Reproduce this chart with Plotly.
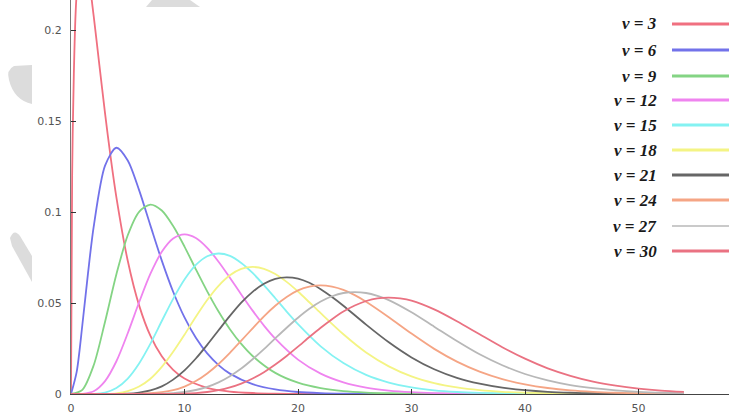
import plotly.graph_objects as go

# ---- data ----
dof = [3, 6, 9, 12, 15, 18, 21, 24, 27, 30]
colors = ["#f07080", "#7272ea", "#84d484", "#ef84ef", "#84f2f2",
          "#f4f484", "#666666", "#f5a585", "#b8b8b8", "#ea7282"]

x_v3 = [0, 0.1, 0.25, 0.5, 1, 1.5, 2, 2.5, 3, 3.5, 4, 5, 6, 7, 8, 9, 10, 12, 14, 16, 18, 20, 25, 54]
y_v3 = [0, 0.120, 0.176, 0.2197, 0.2420, 0.2308, 0.2076, 0.1807, 0.1542, 0.1297, 0.1080, 0.0732,
        0.0487, 0.0319, 0.0207, 0.0133, 0.0085, 0.00343, 0.00136, 0.00054, 0.00021, 0.00008, 0.00001, 0]

x_v6 = [0, 0.5, 1, 1.5, 2, 3, 4, 5, 6, 7, 8, 9, 10, 11, 12, 13, 14, 16, 18, 20, 22, 24, 26, 30, 54]
y_v6 = [0, 0.0122, 0.0379, 0.0664, 0.0920, 0.1255, 0.1353, 0.1283, 0.1120, 0.0925, 0.0733, 0.0562,
        0.0421, 0.0309, 0.0223, 0.0159, 0.0112, 0.0054, 0.0025, 0.0011, 0.0005, 0.0002, 0.0001, 0.00002, 0]

x_v9 = [0, 1, 2, 3, 4, 5, 6, 7, 8, 9, 10, 11, 12, 13, 14, 15, 16, 18, 20, 22, 24, 26, 28, 30, 54]
y_v9 = [0, 0.0023, 0.0158, 0.0397, 0.0658, 0.0872, 0.1001, 0.1041, 0.1008, 0.0923, 0.0810, 0.0685,
        0.0564, 0.0453, 0.0356, 0.0275, 0.0209, 0.0116, 0.0062, 0.0032, 0.0016, 0.0008, 0.0004, 0.0002, 0]

x_v12 = [0, 1, 2, 3, 4, 5, 6, 7, 8, 9, 10, 11, 12, 13, 14, 15, 16, 17, 18, 20, 22, 24, 26, 28, 30, 32, 34, 36, 54]
y_v12 = [0, 0.0001, 0.0015, 0.0071, 0.0180, 0.0334, 0.0504, 0.0661, 0.0781, 0.0854, 0.0877, 0.0857,
         0.0803, 0.0727, 0.0639, 0.0547, 0.0458, 0.0376, 0.0304, 0.0189, 0.0112, 0.0064, 0.0035, 0.0019,
         0.0010, 0.0005, 0.0002, 0.0001, 0]

x_v15 = [0, 2, 3, 4, 5, 6, 7, 8, 9, 10, 11, 12, 13, 14, 15, 16, 17, 18, 19, 20, 22, 24, 26, 28, 30,
         32, 34, 36, 38, 40, 54]
y_v15 = [0, 0.0001, 0.0008, 0.0033, 0.0085, 0.0168, 0.0277, 0.0401, 0.0523, 0.0629, 0.0709, 0.0757,
         0.0772, 0.0759, 0.0720, 0.0665, 0.0598, 0.0526, 0.0453, 0.0384, 0.0262, 0.0170, 0.0105, 0.0063,
         0.0036, 0.0020, 0.0011, 0.0006, 0.0003, 0.0002, 0]

x_v18 = [0, 3, 4, 5, 6, 7, 8, 9, 10, 11, 12, 13, 14, 15, 16, 17, 18, 19, 20, 21, 22, 24, 26, 28, 30,
         32, 34, 36, 38, 40, 44, 54]
y_v18 = [0, 0.0001, 0.0004, 0.0016, 0.0041, 0.0084, 0.0149, 0.0232, 0.0326, 0.0424, 0.0516, 0.0594,
         0.0652, 0.0687, 0.0698, 0.0688, 0.0659, 0.0616, 0.0563, 0.0504, 0.0444, 0.0328, 0.0228, 0.0152,
         0.0097, 0.0060, 0.0036, 0.0021, 0.0012, 0.0007, 0.0002, 0]

x_v21 = [0, 5, 6, 7, 8, 9, 10, 11, 12, 13, 14, 15, 16, 17, 18, 19, 20, 21, 22, 23, 24, 26, 28, 30,
         32, 34, 36, 38, 40, 42, 44, 46, 48, 50, 54]
y_v21 = [0, 0.0002, 0.0008, 0.0020, 0.0042, 0.0079, 0.0130, 0.0195, 0.0270, 0.0350, 0.0429, 0.0502,
         0.0561, 0.0606, 0.0633, 0.0641, 0.0634, 0.0611, 0.0576, 0.0533, 0.0485, 0.0381, 0.0284, 0.0201,
         0.0136, 0.0089, 0.0057, 0.0035, 0.0021, 0.0012, 0.0007, 0.0004, 0.0002, 0.0001, 0]

x_v24 = [0, 6, 7, 8, 9, 10, 11, 12, 13, 14, 15, 16, 17, 18, 19, 20, 21, 22, 23, 24, 25, 26, 28, 30,
         32, 34, 36, 38, 40, 42, 44, 46, 48, 50, 52, 54]
y_v24 = [0, 0.0001, 0.0004, 0.0010, 0.0021, 0.0041, 0.0071, 0.0113, 0.0165, 0.0226, 0.0293, 0.0361,
         0.0427, 0.0485, 0.0533, 0.0569, 0.0590, 0.0597, 0.0590, 0.0572, 0.0543, 0.0507, 0.0422, 0.0332,
         0.0248, 0.0178, 0.0123, 0.0082, 0.0053, 0.0033, 0.0020, 0.0012, 0.0007, 0.0004, 0.0002, 0.0001]

x_v27 = [0, 8, 9, 10, 11, 12, 13, 14, 15, 16, 17, 18, 19, 20, 21, 22, 23, 24, 25, 26, 27, 28, 30, 32,
         34, 36, 38, 40, 42, 44, 46, 48, 50, 52, 54]
y_v27 = [0, 0.0002, 0.0005, 0.0011, 0.0022, 0.0039, 0.0064, 0.0098, 0.0140, 0.0191, 0.0247, 0.0306,
         0.0364, 0.0419, 0.0468, 0.0508, 0.0537, 0.0555, 0.0560, 0.0555, 0.0539, 0.0516, 0.0449, 0.0370,
         0.0291, 0.0218, 0.0158, 0.0110, 0.0075, 0.0049, 0.0032, 0.0020, 0.0012, 0.0007, 0.0004]

x_v30 = [0, 10, 11, 12, 13, 14, 15, 16, 17, 18, 19, 20, 21, 22, 23, 24, 25, 26, 27, 28, 29, 30, 32,
         34, 36, 38, 40, 42, 44, 46, 48, 50, 52, 54]
y_v30 = [0, 0.0002, 0.0005, 0.0011, 0.0021, 0.0036, 0.0057, 0.0085, 0.0120, 0.0162, 0.0209, 0.0260,
         0.0313, 0.0364, 0.0411, 0.0453, 0.0486, 0.0511, 0.0526, 0.0530, 0.0525, 0.0513, 0.0465, 0.0400,
         0.0328, 0.0257, 0.0194, 0.0141, 0.0100, 0.0068, 0.0046, 0.0030, 0.0019, 0.0012]

xs = [x_v3, x_v6, x_v9, x_v12, x_v15, x_v18, x_v21, x_v24, x_v27, x_v30]
ys = [y_v3, y_v6, y_v9, y_v12, y_v15, y_v18, y_v21, y_v24, y_v27, y_v30]

x_ticks = [0, 10, 20, 30, 40, 50]
y_ticks = [0, 0.05, 0.1, 0.15, 0.2]
y_tick_text = ["0", "0.05", "0.1", "0.15", "0.2"]

# ---- figure ----
W, H = 729, 414
L, B = 71, 20
PW, PH = W - L, H - B


def px(xp):
    return (xp - L) / PW


def py(yp):
    return (PH - yp) / PH


fig = go.Figure()
for k, c, x, y in zip(dof, colors, xs, ys):
    fig.add_trace(go.Scatter(x=x, y=y, mode="lines", name=f"v = {k}",
                             line=dict(color=c, width=1.8, shape="spline", smoothing=0.8),
                             hoverinfo="skip", showlegend=False))

shapes = []
annotations = []
legend_rows = [24, 50, 76, 100, 125, 150, 175, 200, 226, 251]
for k, c, r in zip(dof, colors, legend_rows):
    lw = 1.5 if k == 27 else 3
    shapes.append(dict(type="line", xref="paper", yref="paper",
                       x0=px(672), x1=px(729), y0=py(r), y1=py(r),
                       line=dict(color=c, width=lw)))
    annotations.append(dict(xref="paper", yref="paper", x=px(659), y=py(r),
                            xanchor="right", yanchor="middle", showarrow=False,
                            text=f"<b><i>v = {k}</i></b>",
                            font=dict(family="Liberation Serif", size=17, color="#1a1a1a")))

# light watermark blotches
wm = "#dcdcdc"
shapes.append(dict(type="path", xref="paper", yref="paper", fillcolor=wm, line=dict(width=0),
                   layer="below",
                   path=f"M {px(32)} {py(65)} L {px(14)} {py(66)} Q {px(6)} {py(70)} {px(9)} {py(80)} "
                        f"Q {px(14)} {py(100)} {px(32)} {py(104)} Z"))
shapes.append(dict(type="path", xref="paper", yref="paper", fillcolor=wm, line=dict(width=0),
                   layer="below",
                   path=f"M {px(10)} {py(238)} Q {px(14)} {py(228)} {px(20)} {py(236)} L {px(32)} {py(256)} "
                        f"L {px(32)} {py(282)} L {px(12)} {py(246)} Z"))
shapes.append(dict(type="path", xref="paper", yref="paper", fillcolor=wm, line=dict(width=0),
                   layer="below",
                   path=f"M {px(146)} {py(7)} L {px(152)} {py(0)} L {px(190)} {py(0)} L {px(200)} {py(7)} Z"))

fig.update_layout(
    width=W, height=H,
    margin=dict(l=L, r=0, t=0, b=B),
    paper_bgcolor="white", plot_bgcolor="white",
    shapes=shapes, annotations=annotations,
    showlegend=False,
    xaxis=dict(range=[0, PW / 113.5 * 10], tickvals=x_ticks, ticktext=[str(v) for v in x_ticks],
               ticks="inside", ticklen=5, tickcolor="#333", showgrid=False, zeroline=False,
               showline=True, linecolor="#444", linewidth=1.2,
               tickfont=dict(family="DejaVu Sans", size=11, color="#555"), ticklabelstandoff=4),
    yaxis=dict(range=[0, PH / 1820.0], tickvals=y_ticks, ticktext=y_tick_text,
               ticks="inside", ticklen=5, tickcolor="#333", showgrid=False, zeroline=False,
               showline=True, linecolor="#777", linewidth=1,
               tickfont=dict(family="DejaVu Sans", size=11, color="#555"), ticklabelstandoff=6),
)

fig.write_html("out.html")
